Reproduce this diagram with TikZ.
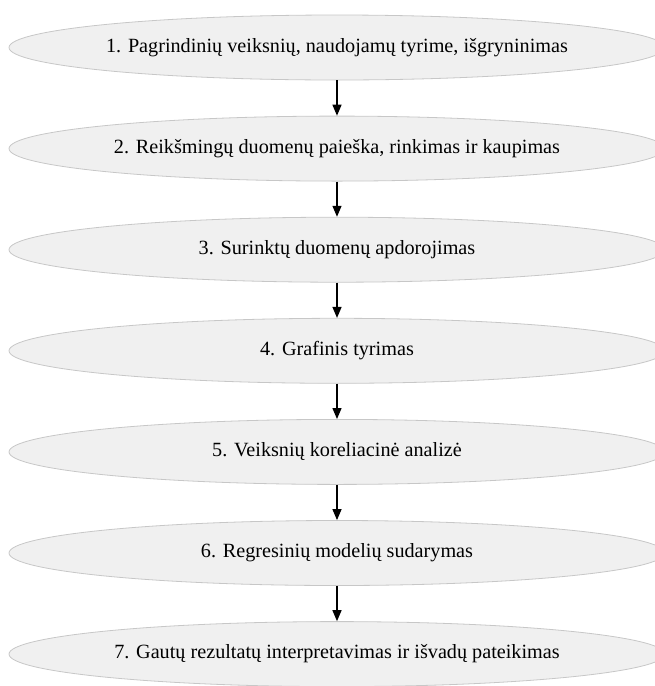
\documentclass[tikz,border=0pt]{standalone}
\usepackage{fontspec}
\setmainfont{Liberation Serif}
\usetikzlibrary{shapes.geometric,arrows.meta}
\tikzset{
  stage/.style={ellipse, draw=black!22, fill=black!6, line width=0.8pt,
    minimum width=656pt, minimum height=65pt, inner sep=0pt,
    font=\fontsize{20.2}{24}\selectfont},
  flow/.style={draw=black, line width=1.3pt, -{Triangle[length=11pt,width=9pt]}}
}
\begin{document}
\begin{tikzpicture}[x=1pt,y=-1pt]
\useasboundingbox (0,0) rectangle (655,686);
\node[stage] (s1) at (337,47.5) {1. Pagrindinių veiksnių, naudojamų tyrime, išgryninimas};
\node[stage] (s2) at (337,148.6) {2. Reikšmingų duomenų paieška, rinkimas ir kaupimas};
\node[stage] (s3) at (337,249.7) {3. Surinktų duomenų apdorojimas};
\node[stage] (s4) at (337,350.8) {4. Grafinis tyrimas};
\node[stage] (s5) at (337,451.9) {5. Veiksnių koreliacinė analizė};
\node[stage] (s6) at (337,553.0) {6. Regresinių modelių sudarymas};
\node[stage] (s7) at (337,654.1) {7. Gautų rezultatų interpretavimas ir išvadų pateikimas};
\draw[flow] (s1) -- (s2);
\draw[flow] (s2) -- (s3);
\draw[flow] (s3) -- (s4);
\draw[flow] (s4) -- (s5);
\draw[flow] (s5) -- (s6);
\draw[flow] (s6) -- (s7);
\end{tikzpicture}
\end{document}
